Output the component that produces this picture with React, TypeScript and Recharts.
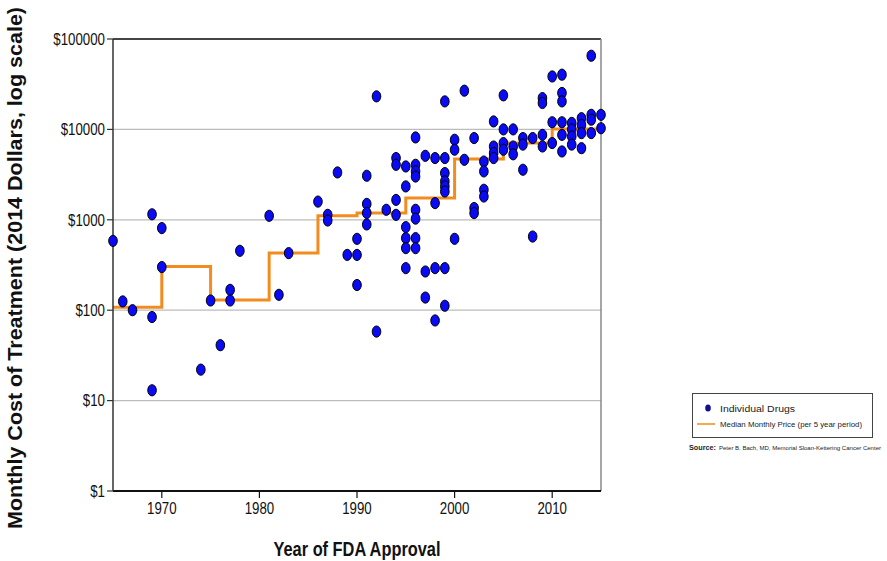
import React from "react";
import {
  ComposedChart,
  Scatter,
  Line,
  XAxis,
  YAxis,
  CartesianGrid,
  ReferenceLine,
} from "recharts";

// one entry per drug, drugYears[i] goes with drugPrices[i]
const drugYears = [
  1965, 1966, 1967,
  1969, 1969, 1969,
  1970, 1970,
  1974, 1975, 1976, 1977, 1977, 1978,
  1981, 1982, 1983,
  1986, 1987, 1987, 1988, 1989,
  1990, 1990, 1990,
  1991, 1991, 1991, 1991,
  1992, 1992, 1993,
  1994, 1994, 1994, 1994,
  1995, 1995, 1995, 1995, 1995, 1995,
  1996, 1996, 1996, 1996, 1996, 1996, 1996, 1996,
  1997, 1997, 1997,
  1998, 1998, 1998, 1998,
  1999, 1999, 1999, 1999, 1999, 1999, 1999, 1999,
  2000, 2000, 2000,
  2001, 2001,
  2002, 2002, 2002,
  2003, 2003, 2003, 2003,
  2004, 2004, 2004, 2004,
  2005, 2005, 2005, 2005,
  2006, 2006, 2006,
  2007, 2007, 2007,
  2008, 2008,
  2009, 2009, 2009, 2009,
  2010, 2010, 2010,
  2011, 2011, 2011, 2011, 2011, 2011,
  2012, 2012, 2012, 2012,
  2013, 2013, 2013, 2013,
  2014, 2014, 2014, 2014,
  2015, 2015,
];
const drugPrices = [
  585, 125, 100,
  1150, 84, 13,
  810, 300,
  22, 128, 41, 168, 128, 454,
  1107, 148, 428,
  1590, 1135, 982, 3340, 409,
  616, 409, 190,
  3070, 1500, 1190, 888,
  23200, 58, 1290,
  4820, 4060, 1660, 1135,
  3890, 2340, 830, 627, 486, 292,
  8150, 4060, 3430, 3010, 1290, 1030, 627, 486,
  5100, 268, 138,
  4820, 1530, 292, 77,
  20400, 4820, 3290, 2660, 2340, 2055, 292, 112,
  7680, 5960, 616,
  26800, 4610,
  8020, 1350, 1186,
  4410, 3430, 2150, 1810,
  12250, 6470, 5470, 4820,
  23800, 10000, 7060, 5960,
  10000, 6470, 5300,
  8020, 6790, 3580,
  8020, 653,
  22200, 19600, 8700, 6470,
  38500, 12000, 7060,
  40300, 25300, 20400, 12000, 8700, 5700,
  11800, 10000, 8370, 6790,
  13300, 11200, 9100, 6200,
  65300, 14500, 12800, 9100,
  14500, 10300,
];

// median per period, drawn as a step line
const medianYears = [1965, 1970, 1975, 1981, 1986, 1990, 1995, 2000, 2005, 2010, 2015];
const medianPrices = [108, 304, 130, 430, 1110, 1190, 1740, 4700, 7060, 10100, 10100];

const xTicks = [1970, 1980, 1990, 2000, 2010];
const yTicks = [1, 10, 100, 1000, 10000, 100000];

const FONT = "'Liberation Sans', Arial, sans-serif";
const DOT_BLUE = "#0a0af5";
const ORANGE = "#f28c1e";

const drugData = drugYears.map((year, i) => ({ year, price: drugPrices[i] }));
const medianData = medianYears.map((year, i) => ({ year, price: medianPrices[i] }));

const Dot = (props: any) => {
  if (props.cx == null || props.cy == null) return null;
  return (
    <ellipse cx={props.cx} cy={props.cy} rx={4.3} ry={5.6} fill={DOT_BLUE} stroke="#000" strokeWidth={1} />
  );
};

const YTick = ({ x, y, payload }: any) => (
  <g transform={`translate(${x},${y}) scale(0.83,1)`}>
    <text textAnchor="end" dy="0.36em" fontSize={16} fontFamily={FONT} fill="#111">
      {"$" + payload.value}
    </text>
  </g>
);

const XTick = ({ x, y, payload }: any) => (
  <g transform={`translate(${x},${y}) scale(0.83,1)`}>
    <text textAnchor="middle" dy={14} fontSize={16} fontFamily={FONT} fill="#111">
      {payload.value}
    </text>
  </g>
);

export default function App() {
  return (
    <div style={{ position: "absolute", left: 0, top: 0, width: 887, height: 561, background: "#fff" }}>
      <ComposedChart
        width={887}
        height={561}
        margin={{ top: 39, right: 286, bottom: 40, left: 13 }}
      >
        <CartesianGrid vertical={false} stroke="#bcbcbc" strokeWidth={1.2} />
        <XAxis
          dataKey="year"
          type="number"
          domain={[1965, 2015]}
          ticks={xTicks}
          height={30}
          tickSize={7}
          tick={<XTick />}
          axisLine={{ stroke: "#111", strokeWidth: 2 }}
          tickLine={{ stroke: "#111", strokeWidth: 1.2 }}
        />
        <YAxis
          dataKey="price"
          type="number"
          scale="log"
          domain={[1, 100000]}
          ticks={yTicks}
          width={100}
          tickSize={6}
          tick={<YTick />}
          axisLine={{ stroke: "#333", strokeWidth: 1.5 }}
          tickLine={{ stroke: "#333", strokeWidth: 1.2 }}
        />
        <ReferenceLine y={100000} stroke="#111" strokeWidth={1.5} />
        <ReferenceLine x={2015} stroke="#888" strokeWidth={1.5} />
        <Scatter data={drugData} dataKey="price" shape={<Dot />} isAnimationActive={false} />
        <Line
          data={medianData}
          dataKey="price"
          type="stepAfter"
          stroke={ORANGE}
          strokeWidth={3}
          dot={false}
          isAnimationActive={false}
        />
      </ComposedChart>

      {/* titles, legend and source note */}
      <svg
        width={887}
        height={561}
        style={{ position: "absolute", left: 0, top: 0, pointerEvents: "none" }}
      >
        <text
          transform="translate(22,268) rotate(-90)"
          textAnchor="middle"
          fontSize={20}
          fontWeight="bold"
          fontFamily={FONT}
          fill="#111"
          textLength={522}
          lengthAdjust="spacingAndGlyphs"
        >
          Monthly Cost of Treatment (2014 Dollars, log scale)
        </text>
        <text
          x={357}
          y={556}
          textAnchor="middle"
          fontSize={21}
          fontWeight="bold"
          fontFamily={FONT}
          fill="#111"
          textLength={167}
          lengthAdjust="spacingAndGlyphs"
        >
          Year of FDA Approval
        </text>

        <rect x={692.5} y={393.5} width={180} height={44} fill="#fff" stroke="#444" strokeWidth={1} />
        <ellipse cx={708} cy={408} rx={2.8} ry={3.6} fill="#101090" />
        <text x={720} y={411.5} fontSize={8.5} fontFamily={FONT} fill="#222" textLength={75} lengthAdjust="spacingAndGlyphs">
          Individual Drugs
        </text>
        <line x1={697} y1={424} x2={715} y2={424} stroke="#f0a040" strokeWidth={1.8} />
        <text x={720} y={427} fontSize={8} fontFamily={FONT} fill="#222" textLength={142} lengthAdjust="spacingAndGlyphs">
          Median Monthly Price (per 5 year period)
        </text>

        <text x={689} y={450} fontSize={7} fontWeight="bold" fontFamily={FONT} fill="#222" textLength={27} lengthAdjust="spacingAndGlyphs">
          Source:
        </text>
        <text x={719} y={450} fontSize={6} fontFamily={FONT} fill="#222" textLength={162} lengthAdjust="spacingAndGlyphs">
          Peter B. Bach, MD, Memorial Sloan-Kettering Cancer Center
        </text>
      </svg>
    </div>
  );
}
